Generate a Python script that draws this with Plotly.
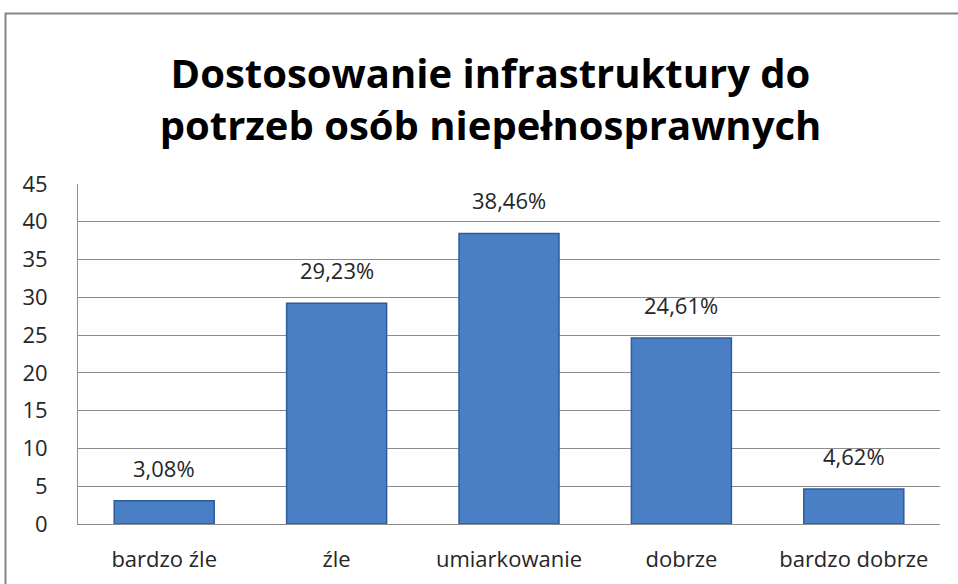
import plotly.graph_objects as go

categories = ["bardzo źle", "źle", "umiarkowanie", "dobrze", "bardzo dobrze"]
values = [3.08, 29.23, 38.46, 24.61, 4.62]
y_ticks = [0, 5, 10, 15, 20, 25, 30, 35, 40, 45]

labels = [f"{v:.2f}".replace(".", ",") + "%" for v in values]

W, H = 958, 584
L, R, T, B = 78, 18, 184, 60
pw, ph = W - L - R, H - T - B
FONT = "Open Sans, sans-serif"
TXT = 22

fig = go.Figure()
fig.add_trace(go.Bar(
    x=categories, y=values,
    marker=dict(color="#4a7fc6", line=dict(color="#2d5c9a", width=1.5)),
    width=0.58,
))

# value labels above each bar
for c, v, t in zip(categories, values, labels):
    fig.add_annotation(x=c, y=v, text=t, showarrow=False,
                       yanchor="bottom", yshift=16,
                       font=dict(family=FONT, size=TXT, color="#262626"))

# outer chart frame (left and top edges visible in the window)
fig.add_shape(type="rect", xref="paper", yref="paper",
              x0=(5.5 - L) / pw, x1=(W + 20 - L) / pw,
              y0=-(B + 20) / ph, y1=(H - B - 13.5) / ph,
              line=dict(color="#868686", width=2), fillcolor="rgba(0,0,0,0)",
              layer="below")

fig.update_layout(
    width=W, height=H,
    margin=dict(l=L, r=R, t=T, b=B),
    paper_bgcolor="white", plot_bgcolor="white",
    showlegend=False,
    title=dict(
        text="<b>Dostosowanie infrastruktury do<br>potrzeb osób niepełnosprawnych</b>",
        x=0.512, xanchor="center", y=0.85, yanchor="middle",
        font=dict(family=FONT, size=40, color="black"),
    ),
    xaxis=dict(
        showline=True, linecolor="#8c8c8c", linewidth=1,
        ticks="", tickfont=dict(family=FONT, size=TXT, color="#262626"),
        ticklabelstandoff=16,
    ),
    yaxis=dict(
        range=[0, 45], tickvals=y_ticks,
        showgrid=True, gridcolor="#8c8c8c", gridwidth=1,
        showline=True, linecolor="#8c8c8c", linewidth=1,
        zeroline=False, ticks="",
        tickfont=dict(family=FONT, size=TXT, color="#262626"),
        ticklabelstandoff=25,
    ),
)

fig.write_html("out.html")
